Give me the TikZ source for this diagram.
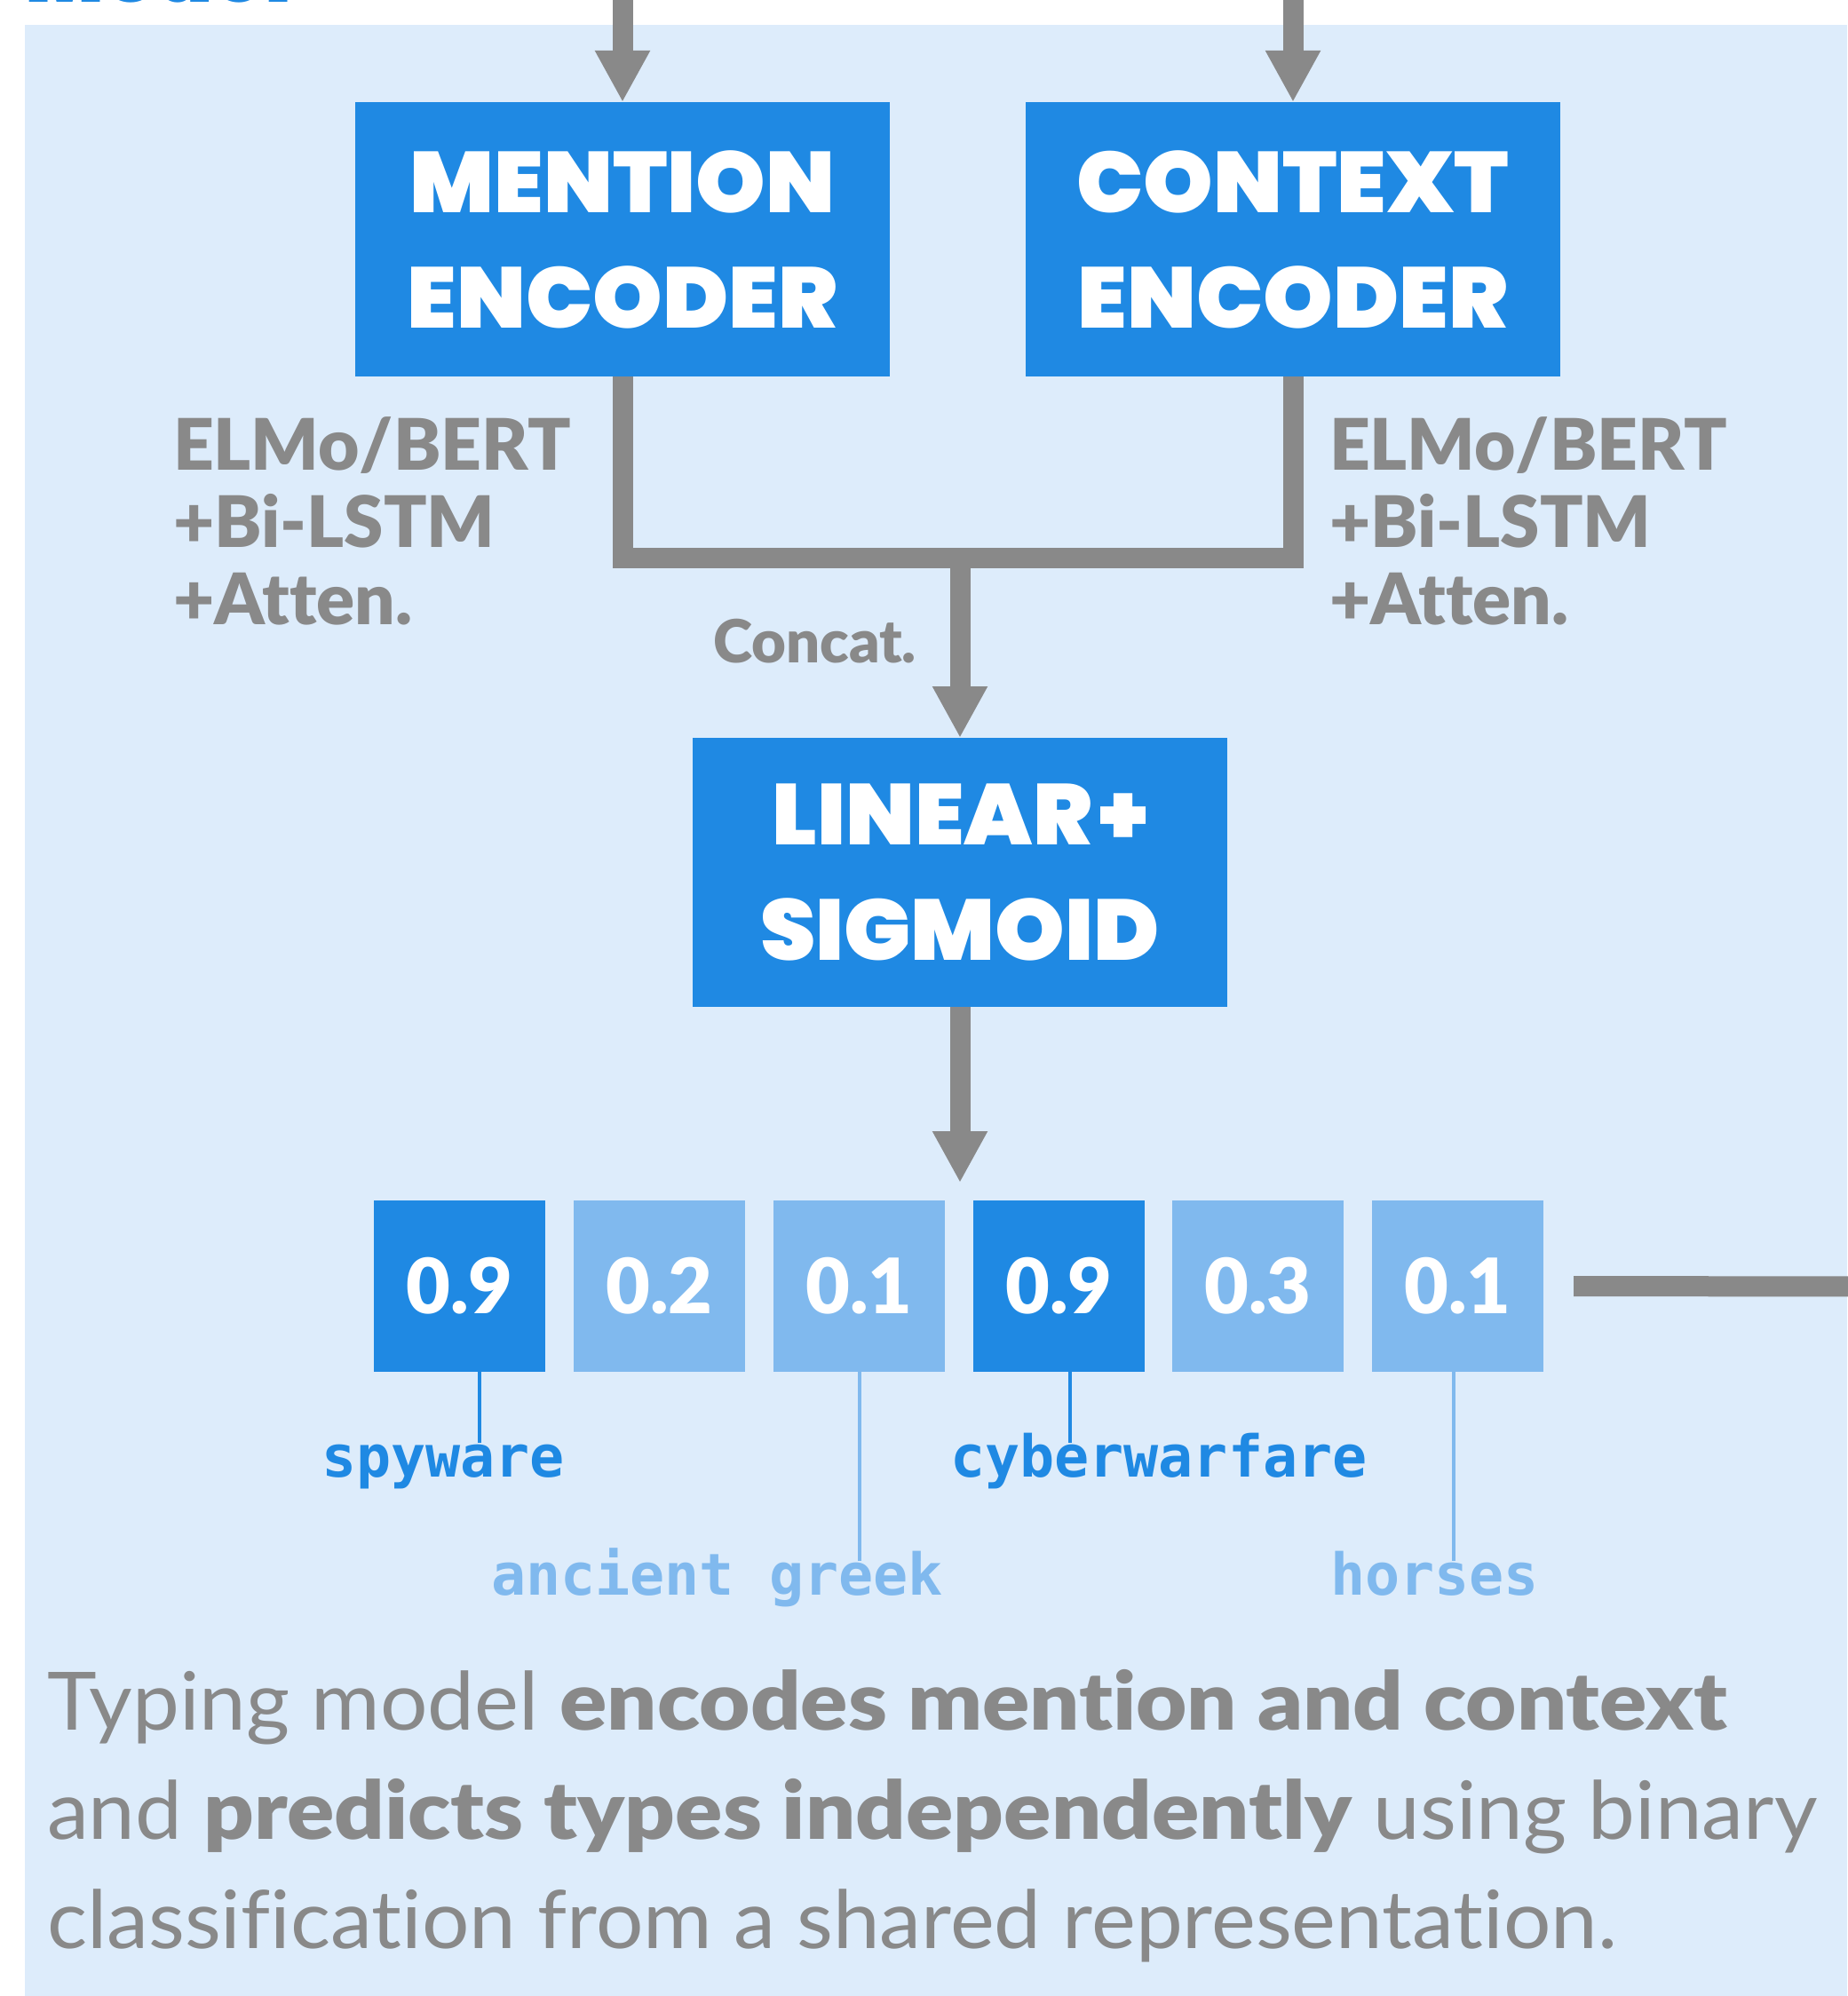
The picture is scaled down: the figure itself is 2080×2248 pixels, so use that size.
\documentclass[tikz,border=0pt]{standalone}
\usepackage{fontspec}
\usetikzlibrary{arrows.meta}
\setmainfont{Lato}[Ligatures=NoCommon]
\newfontfamily\heavyfont{Poppins Black}[FakeStretch=1.03]
\newfontfamily\blackfont{Lato Black}[Ligatures=NoCommon]
\newfontfamily\capblack{Lato Black}[FakeStretch=1.09, Ligatures=NoCommon]
\newfontfamily\capregular{Lato}[FakeStretch=1.04, Ligatures=NoCommon]
\newfontfamily\codefont{DejaVu Sans Mono}

\definecolor{panel}{HTML}{DDECFB}
\definecolor{deep}{HTML}{1F89E3}
\definecolor{pale}{HTML}{80B9EE}
\definecolor{pipegray}{HTML}{898989}

\tikzset{
  every node/.style={inner sep=0pt, outer sep=0pt},
  encoder/.style={fill=deep, minimum width=602pt, minimum height=309pt,
    text=white, align=center, font=\heavyfont\fontsize{97}{130}\selectfont},
  prob/.style={minimum width=193pt, minimum height=193pt, text=white,
    font=\blackfont\fontsize{86}{90}\selectfont},
  hiprob/.style={prob, fill=deep},
  loprob/.style={prob, fill=pale},
  pipe/.style={draw=pipegray, line width=23pt},
  pipearrow/.style={pipe, -{Triangle[width=58pt,length=58pt]}},
  sidelabel/.style={text=pipegray, anchor=base west,
    font=\blackfont\fontsize{80}{87}\selectfont},
  typeword/.style={anchor=base west, font=\codefont\bfseries\fontsize{65}{70}\selectfont},
  leader/.style={line width=4.5pt},
}

\begin{document}
\begin{tikzpicture}[x=1pt,y=-1pt]
\useasboundingbox (0,0) rectangle (2080,2248);
\fill[panel] (28,28) rectangle (2080,2248);

% heading, mostly above the page
\node[anchor=base west, text=deep, font=\heavyfont\fontsize{91}{100}\selectfont]
  (title) at (28,2.5) {Model};

% encoders and classifier
\node[encoder] (mention) at (701,269.5) {MENTION\\ENCODER};
\node[encoder] (context) at (1456,269.5) {CONTEXT\\ENCODER};
\node[encoder, minimum height=303pt] (linear) at (1081,982.5) {LINEAR\kern7pt+\\SIGMOID};

\coordinate (mentionin) at (701,-20);
\coordinate (contextin) at (1456,-20);
\coordinate (join) at (1081,628);
\coordinate (outtip) at (1081,1332);
\coordinate (exit) at (2100,1449);

\draw[pipearrow] (mentionin) -- (mention.north);
\draw[pipearrow] (contextin) -- (context.north);
\draw[pipe] (mention.south) |- (join) -| (context.south);
\draw[pipearrow] (join) -- (linear.north);
\draw[pipearrow] (linear.south) -- (outtip);

% type scores
\node[hiprob] (p1) at (517.5,1448.5) {0.9};
\node[loprob] (p2) at (742.5,1448.5) {0.2};
\node[loprob] (p3) at (967.5,1448.5) {0.1};
\node[hiprob] (p4) at (1192.5,1448.5) {0.9};
\node[loprob] (p5) at (1416.5,1448.5) {0.3};
\node[loprob] (p6) at (1641.5,1448.5) {0.1};

\draw[pipe] ([xshift=34pt]p6.east) -- (exit);

% type names
\coordinate (spyleg) at (540,1625);
\coordinate (greekleg) at (968,1758);
\coordinate (cyberleg) at (1205,1625);
\coordinate (horseleg) at (1637,1758);
\draw[leader, deep] (p1.south -| spyleg) -- (spyleg);
\draw[leader, pale] (p3.south -| greekleg) -- (greekleg);
\draw[leader, deep] (p4.south -| cyberleg) -- (cyberleg);
\draw[leader, pale] (p6.south -| horseleg) -- (horseleg);

\node[typeword, text=deep] (spyware) at (362,1663) {spyware};
\node[typeword, text=pale] (ancient) at (553,1796) {ancient greek};
\node[typeword, text=deep] (cyber) at (1070,1663) {cyberwarfare};
\node[typeword, text=pale] (horses) at (1498,1796) {horses};

% encoder descriptions
\node[sidelabel] (leftenc) at (195,529)
  {\begin{tabular}[t]{@{}l@{}}ELMo/BERT\\+Bi-LSTM\\+Atten.\end{tabular}};
\node[sidelabel] (rightenc) at (1497,529)
  {\begin{tabular}[t]{@{}l@{}}ELMo/BERT\\+Bi-LSTM\\+Atten.\end{tabular}};
\node[anchor=base west, text=pipegray, font=\blackfont\fontsize{67}{70}\selectfont]
  (concat) at (803,746) {Concat.};

% caption
\node[anchor=base west, text=pipegray, font=\capregular\fontsize{90.7}{123}\selectfont]
  (caption) at (53,1948)
  {\begin{tabular}[t]{@{}l@{}}Typing model {\capblack encodes mention and context}\\
   and {\capblack predicts types independently} using binary\\
   classification from a shared representation.\end{tabular}};
\end{tikzpicture}
\end{document}
